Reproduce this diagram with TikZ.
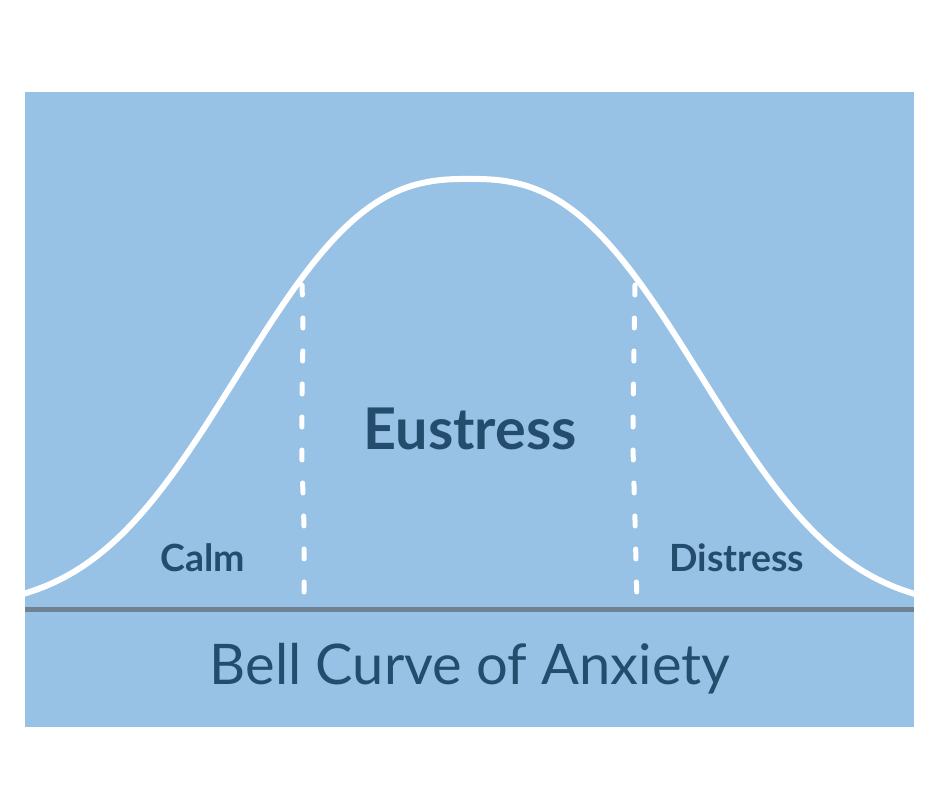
\documentclass[tikz,border=0pt]{standalone}
\usepackage{fontspec}
\setmainfont{Lato}
\definecolor{bgblue}{HTML}{97C2E5}
\definecolor{txtblue}{HTML}{244D6D}
\definecolor{basegray}{HTML}{6E8294}
\tikzset{
  curveline/.style={draw=white, line width=6pt},
  dashline/.style={draw=white, line width=5pt, line cap=round, dash pattern=on 10pt off 23pt},
  zonelabel/.style={text=txtblue, font=\bfseries\fontsize{37.5}{40}\selectfont, anchor=base, inner sep=0pt},
}
\begin{document}
\begin{tikzpicture}[x=1pt,y=-1pt]
\useasboundingbox[fill=white] (0,0) rectangle (940,788);
\fill[bgblue] (25,92) rectangle (914,727);
\begin{scope}
\clip (25,92) rectangle (914,727);
\draw[curveline] plot[smooth, domain=-455:455, samples=92] ({469+\x},{609-430*exp(-pow(abs(\x)/280,2.6))});
\end{scope}
\draw[basegray, line width=4.5pt] (25,609.5) -- (914,609.5);
\draw[dashline] plot[smooth] coordinates {(302,285) (303,330) (302,400) (302,460) (304,530) (304,606)};
\draw[dashline] plot[smooth] coordinates {(635,285) (634,350) (633,440) (635,520) (637,606)};
\node[zonelabel, font=\bfseries\fontsize{57.5}{60}\selectfont] (eustress) at (470,449) {Eustress};
\node[zonelabel] (calm) at (203,571) {Calm};
\node[zonelabel] (distress) at (737,571) {Distress};
\node[text=txtblue, font=\fontsize{56}{60}\selectfont, anchor=base, inner sep=0pt] (title) at (470,684) {Bell Curve of Anxiety};
\end{tikzpicture}
\end{document}
